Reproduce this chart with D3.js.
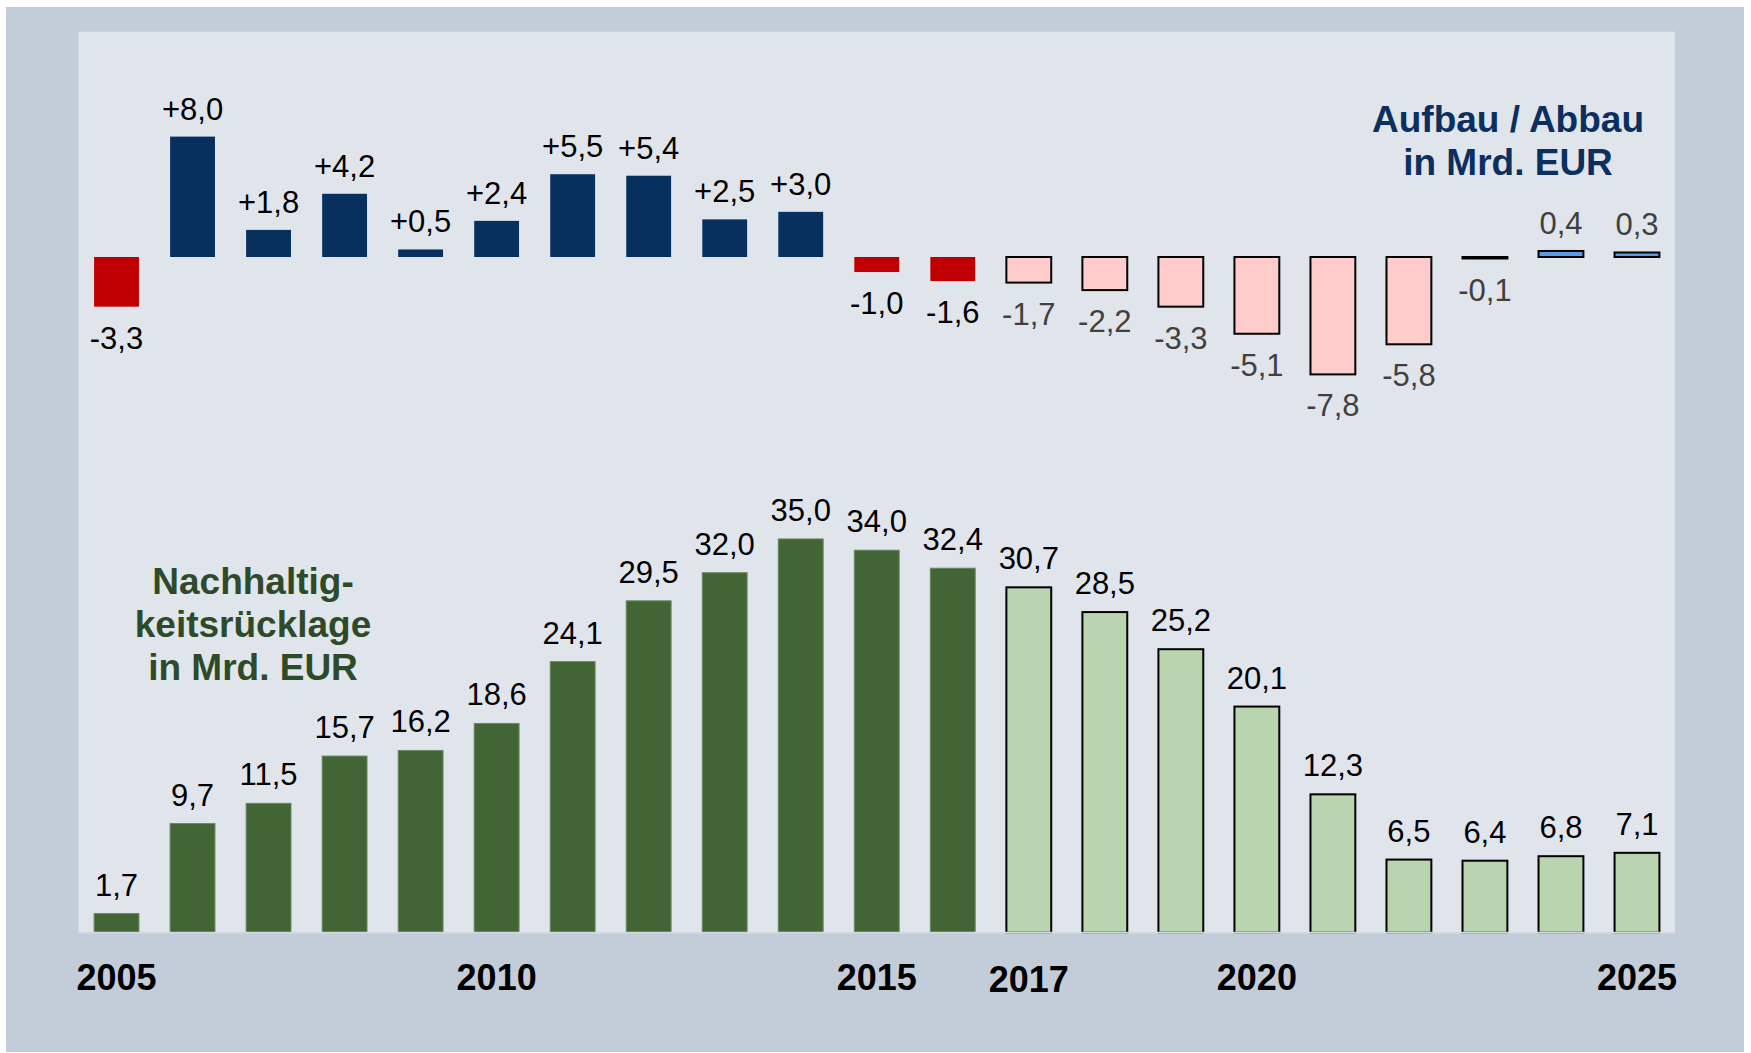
<!DOCTYPE html>
<html>
<head>
<meta charset="utf-8">
<script src="https://cdn.jsdelivr.net/npm/d3@7"></script>
<style>
  html, body { margin: 0; padding: 0; background: #ffffff; }
  svg { display: block; }
  text { font-family: "Liberation Sans", Arial, sans-serif; }
</style>
</head>
<body>
<script>
// ---- data ----
const years = [2005, 2006, 2007, 2008, 2009, 2010, 2011, 2012, 2013, 2014, 2015,
               2016, 2017, 2018, 2019, 2020, 2021, 2022, 2023, 2024, 2025];
const change = [-3.3, 8.0, 1.8, 4.2, 0.5, 2.4, 5.5, 5.4, 2.5, 3.0, -1.0,
                -1.6, -1.7, -2.2, -3.3, -5.1, -7.8, -5.8, -0.1, 0.4, 0.3];
const reserve = [1.7, 9.7, 11.5, 15.7, 16.2, 18.6, 24.1, 29.5, 32.0, 35.0, 34.0,
                 32.4, 30.7, 28.5, 25.2, 20.1, 12.3, 6.5, 6.4, 6.8, 7.1];
const firstProjected = 2017;
const tickYears = [2005, 2010, 2015, 2017, 2020, 2025];
const titleTop = ["Aufbau / Abbau", "in Mrd. EUR"];
const titleBottom = ["Nachhaltig-", "keitsrücklage", "in Mrd. EUR"];

// ---- layout ----
const W = 1751, H = 1053;
const outer = {x0: 6, y0: 7, x1: 1744, y1: 1052};
const panel = {x0: 78.5, y0: 31.7, x1: 1675, y1: 932.7};

const svg = d3.select("body").append("svg").attr("width", W).attr("height", H);

svg.append("rect").attr("x", outer.x0).attr("y", outer.y0)
  .attr("width", outer.x1 - outer.x0).attr("height", outer.y1 - outer.y0)
  .attr("fill", "#c3cdd9");
svg.append("rect").attr("x", panel.x0).attr("y", panel.y0)
  .attr("width", panel.x1 - panel.x0).attr("height", panel.y1 - panel.y0)
  .attr("fill", "#e0e5ec");

const x = d3.scaleBand().domain(years).range([panel.x0, panel.x1])
  .paddingInner(0.41).paddingOuter(0.205);

const yTop = d3.scaleLinear().domain([-8, 8]).range([257 + 8 * 15.05, 257 - 8 * 15.05]);
const yBot = d3.scaleLinear().domain([0, 35]).range([panel.y1, panel.y1 - 35 * 11.25]);

const fmt = v => v.toFixed(1).replace(".", ",");

const topData = years.map((y, i) => ({year: y, v: change[i]}));
const botData = years.map((y, i) => ({year: y, v: reserve[i]}));

function topFill(d) {
  if (d.year < firstProjected) return d.v < 0 ? "#c00000" : "#08305f";
  return d.v < 0 ? "#ffcccc" : "#5b9be6";
}

// ---- upper bars ----
svg.append("g").selectAll("rect").data(topData).join("rect")
  .attr("x", d => x(d.year))
  .attr("width", x.bandwidth())
  .attr("y", d => Math.min(yTop(d.v), yTop(0)))
  .attr("height", d => Math.abs(yTop(d.v) - yTop(0)))
  .attr("fill", topFill)
  .attr("stroke", d => d.year >= firstProjected ? "#000" : "none")
  .attr("stroke-width", 2);

svg.append("g").selectAll("text").data(topData).join("text")
  .attr("x", d => x(d.year) + x.bandwidth() / 2)
  .attr("y", d => d.v >= 0 ? yTop(d.v) - 17 : yTop(d.v) + 42)
  .attr("text-anchor", "middle")
  .attr("font-size", 31)
  .attr("fill", d => d.year >= firstProjected ? "#404040" : "#000")
  .text(d => (d.v > 0 && d.year < firstProjected ? "+" : "") + fmt(d.v));

// ---- lower bars ----
svg.append("g").selectAll("rect").data(botData).join("rect")
  .attr("x", d => x(d.year))
  .attr("width", x.bandwidth())
  .attr("y", d => yBot(d.v))
  .attr("height", d => yBot(0) - yBot(d.v))
  .attr("fill", d => d.year >= firstProjected ? "#b9d5b0" : "#426535")
  .attr("stroke", d => d.year >= firstProjected ? "#000" : "#6a8862")
  .attr("stroke-width", d => d.year >= firstProjected ? 2 : 1);

svg.append("line")
  .attr("x1", panel.x0).attr("x2", panel.x1)
  .attr("y1", panel.y1).attr("y2", panel.y1)
  .attr("stroke", "#d3d8df").attr("stroke-width", 2);

svg.append("g").selectAll("text").data(botData).join("text")
  .attr("x", d => x(d.year) + x.bandwidth() / 2)
  .attr("y", d => yBot(d.v) - 18)
  .attr("text-anchor", "middle")
  .attr("font-size", 31)
  .attr("fill", "#000")
  .text(d => fmt(d.v));

// ---- year axis ----
const axis = svg.append("g")
  .attr("transform", `translate(0,${panel.y1})`)
  .call(d3.axisBottom(x).tickValues(tickYears).tickSize(0).tickPadding(0));
axis.select(".domain").remove();
axis.selectAll("text")
  .attr("dy", null)
  .attr("y", d => d === 2017 ? 59.5 : 57.3)
  .attr("font-size", 36)
  .attr("font-weight", "bold")
  .attr("font-family", "'Liberation Sans', Arial, sans-serif")
  .attr("fill", "#000");

// ---- titles ----
svg.append("g").selectAll("text").data(titleTop).join("text")
  .attr("x", 1508)
  .attr("y", (d, i) => 131.7 + i * 43.3)
  .attr("text-anchor", "middle")
  .attr("font-size", 37)
  .attr("font-weight", "bold")
  .attr("fill", "#0b2f5e")
  .text(d => d);

svg.append("g").selectAll("text").data(titleBottom).join("text")
  .attr("x", 253)
  .attr("y", (d, i) => 594.3 + i * 43)
  .attr("text-anchor", "middle")
  .attr("font-size", 37)
  .attr("font-weight", "bold")
  .attr("fill", "#2e4a29")
  .text(d => d);
</script>
</body>
</html>
